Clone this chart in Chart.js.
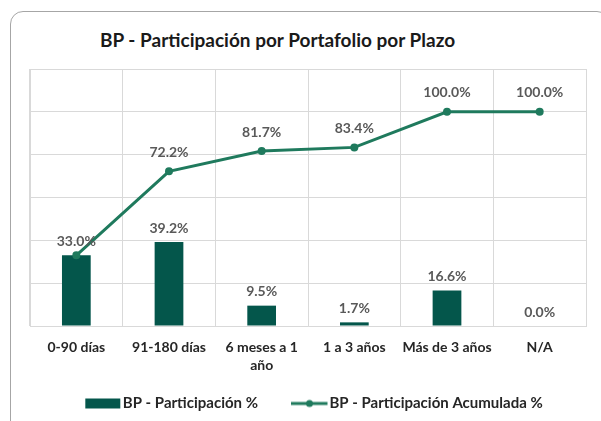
<!DOCTYPE html>
<html>
<head>
<meta charset="utf-8">
<script src="https://cdn.jsdelivr.net/npm/chart.js@4.4.1/dist/chart.umd.min.js"></script>
<style>
  html, body { margin: 0; padding: 0; background: #ffffff; }
  #wrap { position: relative; width: 601px; height: 421px; overflow: hidden; }
  #marco {
    position: absolute; left: 10px; top: 11px; width: 600px; height: 430px;
    border: 1px solid #a6a6a6; border-radius: 13px; box-sizing: border-box;
  }
  #titulo {
    position: absolute; left: 100px; top: 28px; margin: 0;
    font: bold 19px Lato, "Liberation Sans", sans-serif; line-height: 23px; color: #1a1a1a;
    white-space: nowrap;
  }
  #grafico { position: absolute; left: 0; top: 0; }
</style>
</head>
<body>
<div id="wrap">
  <div id="marco"></div>
  <h1 id="titulo">BP - Participación por Portafolio por Plazo</h1>
  <canvas id="grafico" width="601" height="421"></canvas>
</div>
<script>
// Datos del gráfico
const plazos = ['0-90 días', '91-180 días', ['6 meses a 1', 'año'], '1 a 3 años', 'Más de 3 años', 'N/A'];
const participacion = [33.0, 39.2, 9.5, 1.7, 16.6, 0.0];
const acumulada = [33.0, 72.2, 81.7, 83.4, 100.0, 100.0];
const nombreBarras = 'BP - Participación %';
const nombreLinea = 'BP - Participación Acumulada %';

const verdeBarra = '#04564b';
const verdeLinea = '#1f7a5d';
const fuente = 'Lato, "Liberation Sans", sans-serif';

// Muestras de la leyenda: la marca va pegada al texto, como en Excel
function muestra(tipo) {
    const c = document.createElement('canvas');
    c.width = 54;
    c.height = 12;
    const g = c.getContext('2d');
    if (tipo === 'barra') {
        g.fillStyle = verdeBarra;
        g.fillRect(18, 1, 35, 10);
    } else {
        g.strokeStyle = verdeLinea;
        g.lineWidth = 3;
        g.beginPath();
        g.moveTo(17, 6);
        g.lineTo(53.5, 6);
        g.stroke();
        g.fillStyle = verdeLinea;
        g.beginPath();
        g.arc(35.5, 6, 3.5, 0, Math.PI * 2);
        g.fill();
    }
    return c;
}

// Plugin para las etiquetas de datos
const etiquetas = {
    id: 'etiquetas',
    afterDatasetsDraw(chart) {
        const ctx = chart.ctx;
        ctx.save();
        ctx.font = 'bold 14px ' + fuente;
        ctx.fillStyle = '#595959';
        ctx.textAlign = 'center';
        ctx.textBaseline = 'middle';
        const puestas = [];
        chart.data.datasets.forEach((ds, i) => {
            const meta = chart.getDatasetMeta(i);
            const desfase = ds.type === 'line' ? 19 : 14;
            meta.data.forEach((el, j) => {
                const texto = ds.data[j].toFixed(1) + '%';
                const y = el.y - desfase;
                // si ya hay la misma etiqueta casi en el mismo sitio, no repetir
                const repetida = puestas.some(p => p.texto === texto &&
                    Math.abs(p.x - el.x) < 4 && Math.abs(p.y - y) < 12);
                if (repetida) return;
                puestas.push({ texto, x: el.x, y });
                ctx.fillText(texto, el.x, y);
            });
        });
        ctx.restore();
    }
};

const ctx = document.getElementById('grafico').getContext('2d');
new Chart(ctx, {
    data: {
        labels: plazos,
        datasets: [
            {
                type: 'bar',
                label: nombreBarras,
                data: participacion,
                backgroundColor: verdeBarra,
                borderWidth: 0,
                barPercentage: 0.31,
                categoryPercentage: 1,
                order: 2
            },
            {
                type: 'line',
                label: nombreLinea,
                data: acumulada,
                borderColor: verdeLinea,
                backgroundColor: verdeLinea,
                borderWidth: 3,
                pointRadius: 4,
                pointBackgroundColor: verdeLinea,
                pointBorderWidth: 0,
                tension: 0,
                order: 1
            }
        ]
    },
    options: {
        responsive: false,
        animation: false,
        layout: { padding: { left: 30, right: 15, top: 69, bottom: 0 } },
        scales: {
            x: {
                grid: { color: '#d9d9d9', drawTicks: false, offset: true },
                border: { color: '#d9d9d9' },
                ticks: {
                    color: '#262626',
                    font: { family: fuente, size: 14, weight: 'bold', lineHeight: 1.3 },
                    padding: 12,
                    maxRotation: 0,
                    autoSkip: false
                },
                afterFit(scale) { scale.height = 48; }
            },
            y: {
                min: 0,
                max: 120,
                ticks: { display: false, stepSize: 20 },
                grid: { color: '#d9d9d9', drawTicks: false },
                border: { color: '#d9d9d9' }
            }
        },
        plugins: {
            legend: {
                position: 'bottom',
                labels: {
                    usePointStyle: true,
                    pointStyleWidth: 42,
                    boxHeight: 12,
                    padding: 22,
                    color: '#262626',
                    font: { family: fuente, size: 15, weight: 'bold' },
                    sort: (a, b) => a.datasetIndex - b.datasetIndex,
                    generateLabels(chart) {
                        const items = Chart.defaults.plugins.legend.labels.generateLabels(chart);
                        items.forEach(it => {
                            it.pointStyle = muestra(it.datasetIndex === 1 ? 'linea' : 'barra');
                        });
                        return items;
                    }
                }
            },
            tooltip: { enabled: false }
        }
    },
    plugins: [etiquetas]
});
</script>
</body>
</html>
